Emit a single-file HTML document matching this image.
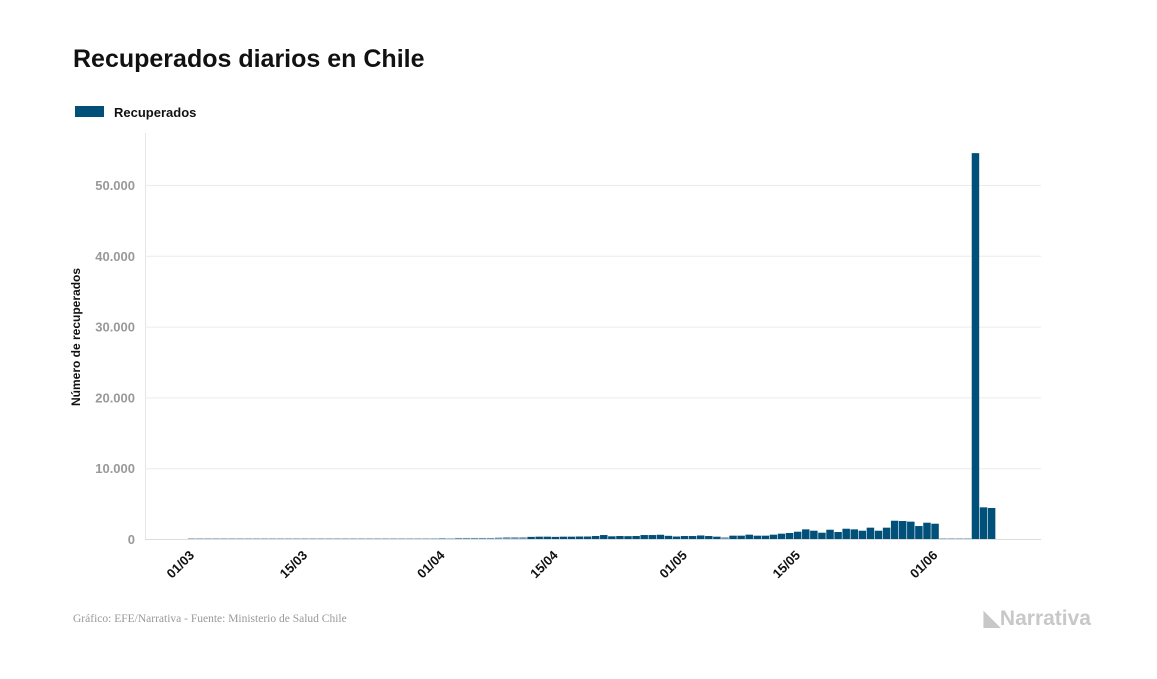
<!DOCTYPE html>
<html><head><meta charset="utf-8"><style>
body{margin:0;background:#fff;width:1157px;height:674px;overflow:hidden;font-family:"Liberation Sans",sans-serif}
</style></head><body>
<svg width="1157" height="674" xmlns="http://www.w3.org/2000/svg">
<text x="73" y="67" font-size="25" font-weight="bold" fill="#111">Recuperados diarios en Chile</text>
<rect x="75" y="106" width="29" height="11" fill="#00507a"/>
<text x="114" y="117" font-size="13" font-weight="bold" fill="#111">Recuperados</text>
<line x1="145.5" y1="133" x2="145.5" y2="539" stroke="#e6e6e6"/>
<g id="grid"></g><g id="bars"></g><g id="xt"></g>
<text transform="translate(80,337) rotate(-90)" text-anchor="middle" font-size="12" font-weight="bold" fill="#111">Número de recuperados</text>
<text x="73" y="622" font-size="11.5" fill="#999" font-family="Liberation Serif,serif">Gráfico: EFE/Narrativa - Fuente: Ministerio de Salud Chile</text>
<text x="1091" y="625" text-anchor="end" font-size="21" font-weight="bold" fill="#c8c8c8">◣Narrativa</text>
</svg>
<script>
const yTicks=[0,10000,20000,30000,40000,50000];
const yTickLabels=["0","10.000","20.000","30.000","40.000","50.000"];
const xTickIdx=[0,14,31,45,61,75,92];
const xTickLabels=["01/03","15/03","01/04","15/04","01/05","15/05","01/06"];
const values=[0,0,0,0,0,0,0,0,0,0,0,0,0,0,0,0,5,5,10,10,15,20,20,25,30,30,35,40,40,50,60,
120,60,150,150,150,150,150,200,250,250,250,300,330,330,300,330,330,350,350,420,560,380,420,400,420,560,560,600,450,350,420,420,
500,420,330,240,470,470,610,470,470,610,750,850,1030,1360,1170,890,1310,990,1450,1360,1170,1600,1170,1600,2580,2540,2450,1830,2300,2160,
40,40,40,40,54500,4470,4380];
const ns="http://www.w3.org/2000/svg";
const x0=192,step=8.08,y0=539,yPer=(539-185)/50000;
const X=i=>x0+i*step, Y=v=>y0-v*yPer;
const grid=document.getElementById('grid'),bars=document.getElementById('bars'),xt=document.getElementById('xt');
yTicks.forEach((t,k)=>{
 const l=document.createElementNS(ns,'line');
 l.setAttribute('x1',145);l.setAttribute('x2',1041);l.setAttribute('y1',Y(t)+0.5);l.setAttribute('y2',Y(t)+0.5);
 l.setAttribute('stroke',t===0?'#dcdcdc':'#ececec');
 
 
 grid.appendChild(l);
 const tx=document.createElementNS(ns,'text');
 tx.setAttribute('x',135);tx.setAttribute('y',Y(t)+5);tx.setAttribute('text-anchor','end');
 tx.setAttribute('font-size','13');tx.setAttribute('font-weight','bold');tx.setAttribute('fill','#999');
 tx.textContent=yTickLabels[k];
 
 
 grid.appendChild(tx);
});
values.forEach((v,i)=>{
 const r=document.createElementNS(ns,'rect');
 const h=Math.max(v*yPer,0.6);
 r.setAttribute('x',X(i)-step/2);r.setAttribute('width',step-0.6);
 r.setAttribute('y',y0-h);r.setAttribute('height',h);
 r.setAttribute('fill',v<300?'#6a98b8':'#00507a');
 
 
 bars.appendChild(r);
});
xTickIdx.forEach((d,k)=>{
 const tx=document.createElementNS(ns,'text');
 const x=X(d)+3,y=556;
 tx.setAttribute('x',x);tx.setAttribute('y',y);tx.setAttribute('text-anchor','end');
 tx.setAttribute('transform','rotate(-45 '+x+' '+y+')');
 tx.setAttribute('font-size','13');tx.setAttribute('font-weight','bold');tx.setAttribute('fill','#111');
 tx.textContent=xTickLabels[k];
 
 
 xt.appendChild(tx);
});
</script>
</body></html>
